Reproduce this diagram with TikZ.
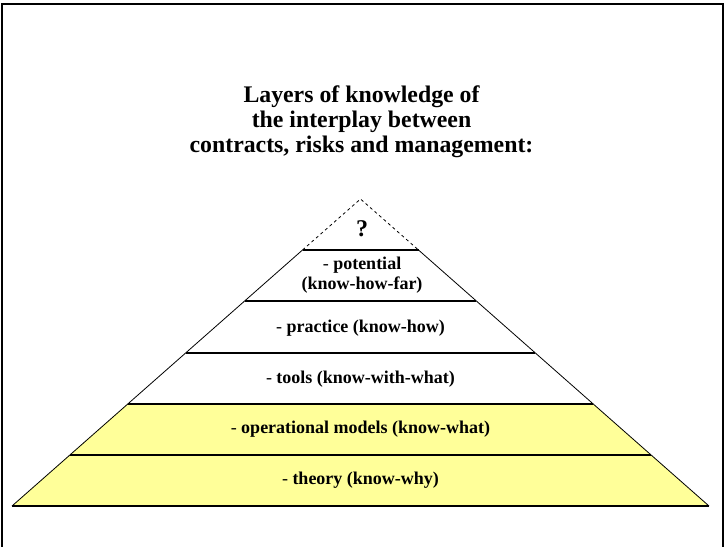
\documentclass[tikz,border=0pt]{standalone}
\usepackage{fontspec}
\setmainfont{Liberation Serif}
\definecolor{layeryellow}{RGB}{255,255,153}
\tikzset{
  titletext/.style={align=center, font=\fontsize{23.8}{25}\selectfont\bfseries},
  layertext/.style={align=center, font=\fontsize{18}{20}\selectfont\bfseries},
  qtext/.style={font=\fontsize{24}{26}\selectfont\bfseries},
  layerline/.style={line width=1.3pt},
  sideline/.style={line width=0.8pt},
}
\newcommand{\dsh}{{\mdseries -}}
\begin{document}
\begin{tikzpicture}[x=1pt,y=-1pt]
\useasboundingbox (0,0) rectangle (725,546);
% frame
\draw[line width=2pt] (1.5,560) -- (1.5,3.5) -- (722.5,3.5) -- (722.5,560);
% coordinates
\coordinate (apex) at (360.5,199);
\coordinate (l1) at (302.5,250); \coordinate (r1) at (418.5,250);
\coordinate (l2) at (244.6,301); \coordinate (r2) at (476.4,301);
\coordinate (l3) at (185.6,353); \coordinate (r3) at (535.4,353);
\coordinate (l4) at (127.7,404); \coordinate (r4) at (593.3,404);
\coordinate (l5) at (69.9,455);  \coordinate (r5) at (651.1,455);
\coordinate (l6) at (12,506);    \coordinate (r6) at (709,506);
% yellow fill
\fill[layeryellow] (l4) -- (r4) -- (r6) -- (l6) -- cycle;
% sides
\draw[sideline, dash pattern=on 3pt off 3pt] (l1) -- (apex) -- (r1);
\draw[sideline] (l1) -- (l6);
\draw[sideline] (r1) -- (r6);
% layer lines
\foreach \i in {1,...,6} { \draw[layerline] (l\i) -- (r\i); }
% title
\node[titletext] (title) at (361.5,122) {Layers of knowledge of\\the interplay between\\contracts, risks and management:};
% labels
\node[qtext] (q) at (362,229) {?};
\node[layertext] (potential) at (362,275) {\dsh{} potential\\(know-how-far)};
\node[layertext] (practice) at (360.5,328) {\dsh{} practice (know-how)};
\node[layertext] (tools) at (360.5,379) {\dsh{} tools (know-with-what)};
\node[layertext] (models) at (360.5,429) {\dsh{} operational models (know-what)};
\node[layertext] (theory) at (360.5,480) {\dsh{} theory (know-why)};
\end{tikzpicture}
\end{document}
